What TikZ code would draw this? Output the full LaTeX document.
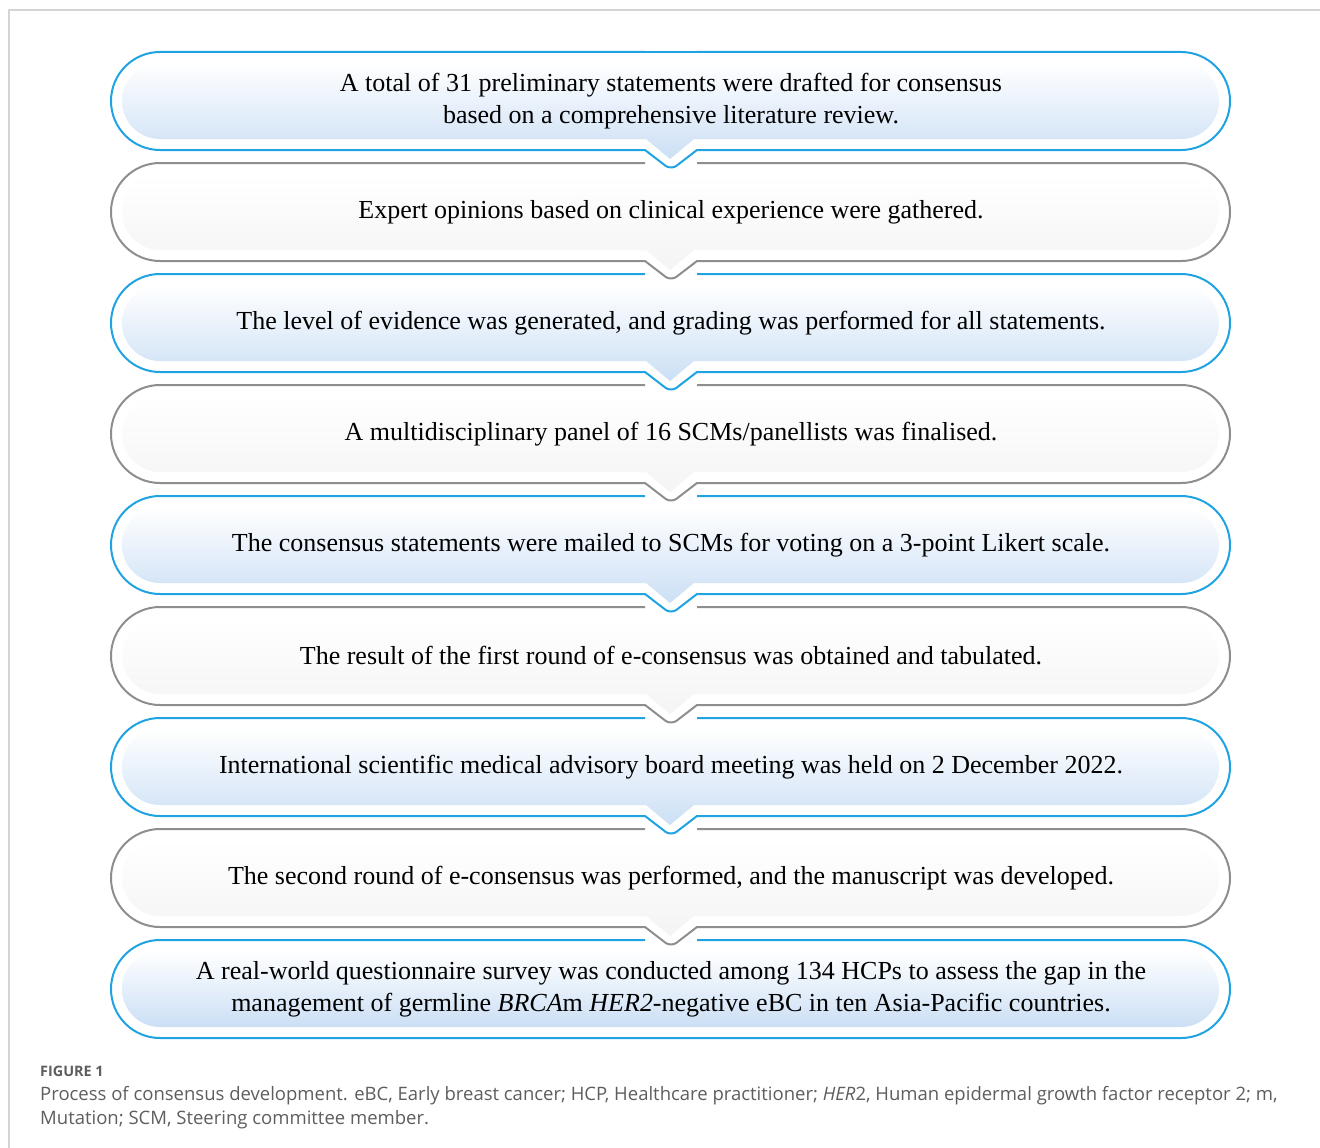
\documentclass[tikz,border=0pt]{standalone}
\usepackage{fontspec}
\setmainfont{Liberation Serif}
\newfontfamily\capfont{Open Sans}
\definecolor{lineblue}{HTML}{1FA3E2}
\definecolor{linegray}{HTML}{8E8E8E}
\definecolor{fillblue}{HTML}{CBDFF5}
\definecolor{fillgray}{HTML}{F4F4F4}
\definecolor{framegray}{HTML}{D4D4D4}
\definecolor{captext}{HTML}{5E5E5E}
\begin{document}
\begin{tikzpicture}[x=1pt,y=-1pt,
  outline/.style={line width=2pt,line join=round},
  steptext/.style={align=center,font=\fontsize{26}{32}\selectfont},
  captext/.style={anchor=west,align=left,text=captext,inner sep=0pt}]
\useasboundingbox (0,0) rectangle (1320,1148);
\fill[white] (0,0) rectangle (1320,1148);
\draw[framegray,line width=1.2pt] (9,1148) -- (9,10) -- (1320,10);
% capsules 1-8 carry a notch at the bottom
\foreach \i in {1,...,9} {
  \pgfmathsetmacro\cy{101+111*(\i-1)}
  \ifodd\i \def\lc{lineblue}\def\fc{fillblue}\else \def\lc{linegray}\def\fc{fillgray}\fi
  \ifnum\i<9
    \shade[top color=white,bottom color=\fc]
      (160,{\cy-38}) -- (1181,{\cy-38}) arc[start angle=-90,end angle=90,radius=38]
      -- (694,{\cy+38}) -- (670,{\cy+58}) -- (646,{\cy+38})
      -- (160,{\cy+38}) arc[start angle=90,end angle=270,radius=38] -- cycle;
    \draw[outline,\lc] (645,{\cy-49}) -- (160,{\cy-49})
      arc[start angle=270,end angle=90,radius=49] -- (645,{\cy+49})
      [rounded corners=7] -- (671,{\cy+69}) [sharp corners] -- (697,{\cy+49})
      -- (1181,{\cy+49}) arc[start angle=90,end angle=-90,radius=49] -- (697,{\cy-49});
  \else
    \shade[top color=white,bottom color=\fc]
      (160,{\cy-38}) -- (1181,{\cy-38}) arc[start angle=-90,end angle=90,radius=38]
      -- (160,{\cy+38}) arc[start angle=90,end angle=270,radius=38] -- cycle;
    \draw[outline,\lc] (645,{\cy-49}) -- (160,{\cy-49})
      arc[start angle=270,end angle=90,radius=49]
      -- (1181,{\cy+49}) arc[start angle=90,end angle=-90,radius=49] -- (697,{\cy-49});
  \fi
}
\draw[outline,lineblue] (645,52) -- (697,52);
% step texts
\node[steptext] (t1) at (671,101) {A total of 31 preliminary statements were drafted for consensus\\based on a comprehensive literature review.};
\node[steptext] (t2) at (671,212) {Expert opinions based on clinical experience were gathered.};
\node[steptext] (t3) at (671,323) {The level of evidence was generated, and grading was performed for all statements.};
\node[steptext] (t4) at (671,434) {A multidisciplinary panel of 16 SCMs/panellists was finalised.};
\node[steptext] (t5) at (671,545) {The consensus statements were mailed to SCMs for voting on a 3-point Likert scale.};
\node[steptext] (t6) at (671,656) {The result of the first round of e-consensus was obtained and tabulated.};
\node[steptext] (t7) at (671,767) {International scientific medical advisory board meeting was held on 2 December 2022.};
\node[steptext] (t8) at (671,878) {The second round of e-consensus was performed, and the manuscript was developed.};
\node[steptext] (t9) at (671,989) {A real-world questionnaire survey was conducted among 134 HCPs to assess the gap in the\\management of germline \textit{BRCA}m \textit{HER2}-negative eBC in ten Asia-Pacific countries.};
% caption
\node[captext,font=\capfont\bfseries\fontsize{14.4}{17}\selectfont] (figlabel) at (40,1071) {FIGURE 1};
\node[captext,font=\capfont\fontsize{18.5}{24}\selectfont] (figcaption) at (40,1108) {Process of consensus development. eBC, Early breast cancer; HCP, Healthcare practitioner; \textit{HER}2, Human epidermal growth factor receptor 2; m,\\Mutation; SCM, Steering committee member.};
\end{tikzpicture}
\end{document}
